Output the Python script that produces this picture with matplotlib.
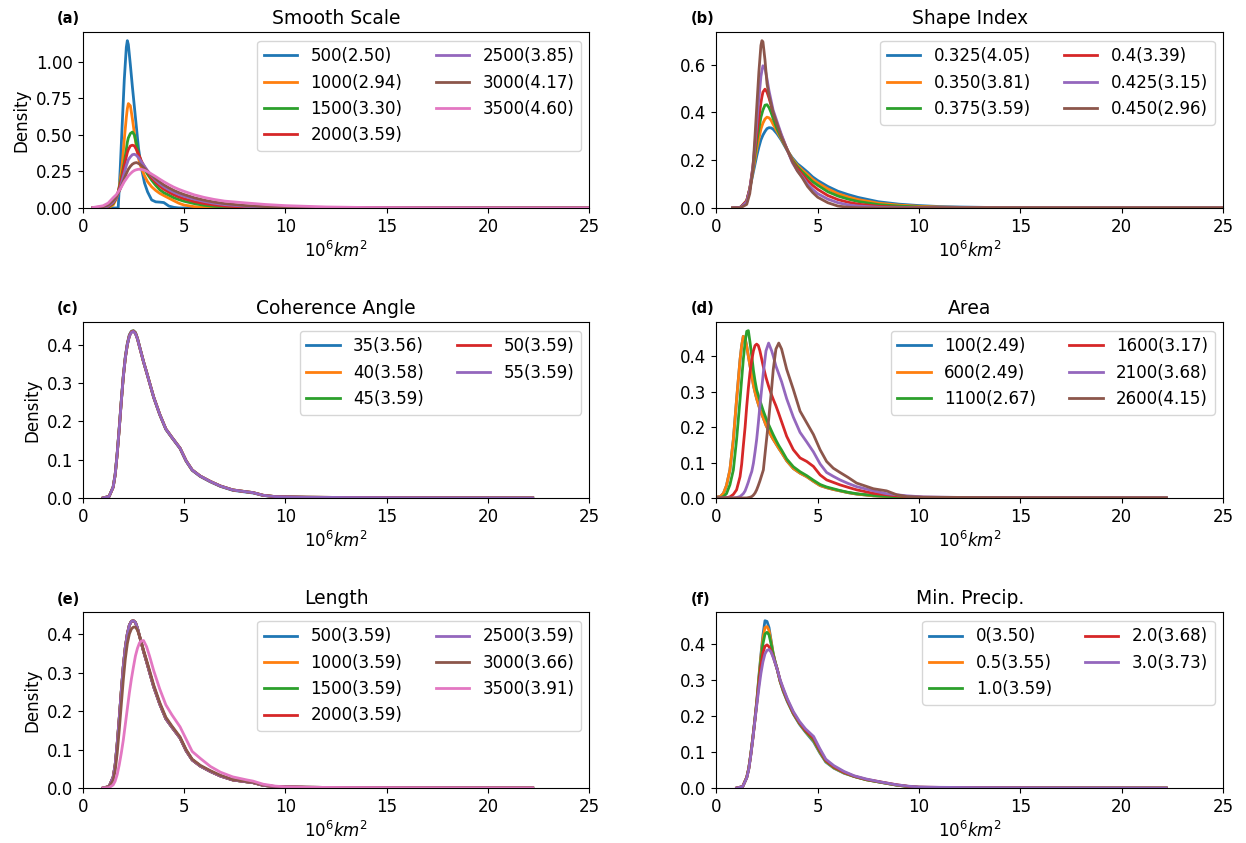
import matplotlib
matplotlib.use("Agg")
import matplotlib.pyplot as plt

# ---------------------------------------------------------------------------
# (a) Smooth Scale
x_smooth = [0.5, 1.0, 1.25, 1.5, 1.65, 1.75, 1.85, 1.95, 2.05, 2.15,
            2.2, 2.25, 2.35, 2.45, 2.55, 2.65, 2.75, 2.9, 3.05, 3.2,
            3.4, 3.6, 3.8, 4.0, 4.25, 4.5, 4.75, 5.0, 5.5, 6.0,
            6.5, 7.0, 8.0, 9.0, 10.0, 12.0, 14.0, 17.0, 20.0, 25.0]
smooth_labels = ["500(2.50)", "1000(2.94)", "1500(3.30)", "2000(3.59)",
                 "2500(3.85)", "3000(4.17)", "3500(4.60)"]
smooth_500 = [0, 0, 0, 0, 0, 0.0, 0.27, 0.58, 0.88, 1.10,
              1.146, 1.12, 0.98, 0.83, 0.69, 0.55, 0.41, 0.27, 0.17, 0.11,
              0.055, 0.042, 0.04, 0.037, 0.013, 0.004, 0, 0, 0, 0,
              0, 0, 0, 0, 0, 0, 0, 0, 0, 0]
smooth_1000 = [0, 0, 0.002, 0.02, 0.06, 0.1, 0.19, 0.30, 0.47, 0.62,
               0.68, 0.715, 0.70, 0.61, 0.51, 0.41, 0.34, 0.27, 0.22, 0.18,
               0.145, 0.12, 0.10, 0.085, 0.067, 0.049, 0.032, 0.02, 0.009, 0.004,
               0.002, 0.001, 0, 0, 0, 0, 0, 0, 0, 0]
smooth_1500 = [0, 0.001, 0.005, 0.03, 0.07, 0.11, 0.17, 0.24, 0.31, 0.40,
               0.45, 0.48, 0.51, 0.52, 0.50, 0.44, 0.37, 0.31, 0.265, 0.23,
               0.19, 0.155, 0.125, 0.105, 0.088, 0.07, 0.057, 0.046, 0.03, 0.018,
               0.011, 0.007, 0.003, 0.001, 0, 0, 0, 0, 0, 0]
smooth_2000 = [0, 0.002, 0.008, 0.035, 0.07, 0.11, 0.16, 0.22, 0.29, 0.35,
               0.38, 0.40, 0.425, 0.43, 0.425, 0.40, 0.37, 0.32, 0.28, 0.245,
               0.205, 0.175, 0.15, 0.128, 0.108, 0.09, 0.075, 0.063, 0.044, 0.03,
               0.02, 0.013, 0.006, 0.003, 0.0015, 0.0005, 0, 0, 0, 0]
smooth_2500 = [0.001, 0.004, 0.012, 0.04, 0.07, 0.1, 0.14, 0.19, 0.24, 0.29,
               0.31, 0.33, 0.35, 0.365, 0.368, 0.36, 0.345, 0.315, 0.285, 0.255,
               0.22, 0.19, 0.165, 0.145, 0.125, 0.107, 0.092, 0.08, 0.06, 0.044,
               0.032, 0.023, 0.012, 0.006, 0.003, 0.001, 0.0003, 0, 0, 0]
smooth_3000 = [0.002, 0.008, 0.02, 0.05, 0.075, 0.1, 0.13, 0.165, 0.2, 0.235,
               0.25, 0.265, 0.285, 0.30, 0.308, 0.311, 0.305, 0.29, 0.27, 0.25,
               0.225, 0.2, 0.178, 0.158, 0.138, 0.12, 0.105, 0.092, 0.07, 0.053,
               0.04, 0.03, 0.017, 0.009, 0.005, 0.002, 0.0008, 0.0002, 0, 0]
smooth_3500 = [0.003, 0.015, 0.033, 0.07, 0.09, 0.11, 0.13, 0.155, 0.18, 0.2,
               0.21, 0.22, 0.235, 0.248, 0.257, 0.262, 0.265, 0.264, 0.258, 0.248,
               0.232, 0.215, 0.197, 0.18, 0.16, 0.142, 0.127, 0.114, 0.09, 0.072,
               0.058, 0.047, 0.035, 0.024, 0.016, 0.007, 0.003, 0.001, 0.0003, 0]

# ---------------------------------------------------------------------------
# (b) Shape Index
x_shape = [0.8, 1.2, 1.5, 1.65, 1.8, 1.9, 2.0, 2.1, 2.2, 2.25,
           2.3, 2.4, 2.5, 2.6, 2.7, 2.8, 3.0, 3.2, 3.5, 3.75,
           4.0, 4.25, 4.5, 4.75, 5.0, 5.5, 6.0, 6.5, 7.0, 8.0,
           9.0, 10.0, 11.0, 12.0, 14.0, 17.0, 20.0, 25.0]
shape_labels = ["0.325(4.05)", "0.350(3.81)", "0.375(3.59)",
                "0.4(3.39)", "0.425(3.15)", "0.450(2.96)"]
shape_0325 = [0, 0.003, 0.03, 0.08, 0.14, 0.18, 0.22, 0.255, 0.285, 0.295,
              0.305, 0.32, 0.332, 0.336, 0.335, 0.33, 0.31, 0.285, 0.24, 0.21,
              0.185, 0.168, 0.15, 0.13, 0.115, 0.09, 0.07, 0.056, 0.044, 0.026,
              0.016, 0.01, 0.006, 0.004, 0.0015, 0.0005, 0.0001, 0]
shape_0350 = [0, 0.003, 0.03, 0.08, 0.15, 0.2, 0.25, 0.29, 0.33, 0.343,
              0.355, 0.372, 0.38, 0.377, 0.367, 0.35, 0.32, 0.29, 0.243, 0.205,
              0.178, 0.158, 0.14, 0.12, 0.105, 0.08, 0.06, 0.046, 0.035, 0.02,
              0.012, 0.007, 0.004, 0.0025, 0.001, 0.0003, 0, 0]
shape_0375 = [0, 0.003, 0.03, 0.08, 0.16, 0.22, 0.28, 0.33, 0.38, 0.395,
              0.41, 0.43, 0.432, 0.42, 0.4, 0.375, 0.33, 0.295, 0.243, 0.2,
              0.172, 0.15, 0.13, 0.11, 0.095, 0.068, 0.05, 0.037, 0.027, 0.014,
              0.008, 0.004, 0.002, 0.001, 0.0004, 0.0001, 0, 0]
shape_0400 = [0, 0.003, 0.03, 0.08, 0.17, 0.24, 0.31, 0.38, 0.44, 0.465,
              0.485, 0.497, 0.485, 0.46, 0.43, 0.4, 0.35, 0.305, 0.243, 0.195,
              0.165, 0.14, 0.115, 0.095, 0.078, 0.052, 0.035, 0.024, 0.016, 0.007,
              0.003, 0.0015, 0.0007, 0.0003, 0.0001, 0, 0, 0]
shape_0425 = [0, 0.002, 0.025, 0.075, 0.17, 0.26, 0.36, 0.46, 0.55, 0.575,
              0.595, 0.585, 0.54, 0.49, 0.45, 0.41, 0.36, 0.31, 0.243, 0.19,
              0.155, 0.13, 0.1, 0.078, 0.06, 0.037, 0.022, 0.013, 0.008, 0.003,
              0.001, 0.0005, 0.0002, 0.0001, 0, 0, 0, 0]
shape_0450 = [0, 0.001, 0.015, 0.06, 0.16, 0.29, 0.43, 0.57, 0.68, 0.70,
              0.695, 0.62, 0.52, 0.47, 0.435, 0.40, 0.35, 0.30, 0.243, 0.195,
              0.155, 0.125, 0.09, 0.065, 0.045, 0.022, 0.008, 0.003, 0.001, 0,
              0, 0, 0, 0, 0, 0, 0, 0]

# ---------------------------------------------------------------------------
# shared grid for (c), (e), (f)
x_common = [1.0, 1.3, 1.5, 1.6, 1.7, 1.8, 1.9, 2.0, 2.1, 2.2,
            2.3, 2.4, 2.5, 2.6, 2.7, 2.8, 2.9, 3.0, 3.15, 3.3,
            3.5, 3.8, 4.1, 4.4, 4.8, 5.1, 5.4, 5.8, 6.3, 6.8,
            7.4, 8.1, 8.4, 8.9, 9.5, 10.0, 11.0, 13.0, 16.0, 19.0,
            22.2]

# (c) Coherence Angle
angle_labels = ["35(3.56)", "40(3.58)", "45(3.59)", "50(3.59)", "55(3.59)"]
angle_35 = [0, 0.004, 0.029, 0.062, 0.117, 0.183, 0.253, 0.318, 0.368, 0.403,
            0.426, 0.435, 0.4365, 0.432, 0.417, 0.396, 0.376, 0.355, 0.328, 0.30,
            0.262, 0.217, 0.179, 0.157, 0.129, 0.096, 0.072, 0.056, 0.042, 0.03,
            0.02, 0.015, 0.013, 0.0065, 0.0033, 0.0028, 0.0018, 0.0011, 0.0005, 0.0002,
            0]
angle_40 = [0, 0.004, 0.028, 0.061, 0.116, 0.181, 0.251, 0.316, 0.366, 0.401,
            0.424, 0.434, 0.436, 0.431, 0.416, 0.395, 0.375, 0.355, 0.328, 0.30,
            0.263, 0.218, 0.18, 0.158, 0.13, 0.097, 0.073, 0.057, 0.043, 0.031,
            0.021, 0.016, 0.014, 0.007, 0.0035, 0.003, 0.002, 0.0012, 0.0006, 0.0003,
            0]
angle_45 = [0, 0.004, 0.028, 0.06, 0.115, 0.18, 0.25, 0.315, 0.365, 0.40,
            0.423, 0.433, 0.4355, 0.43, 0.415, 0.395, 0.375, 0.355, 0.328, 0.30,
            0.263, 0.218, 0.18, 0.158, 0.13, 0.097, 0.073, 0.057, 0.043, 0.031,
            0.021, 0.016, 0.014, 0.007, 0.0035, 0.003, 0.002, 0.0012, 0.0006, 0.0003,
            0]
angle_50 = [0, 0.004, 0.028, 0.06, 0.115, 0.18, 0.25, 0.315, 0.365, 0.40,
            0.423, 0.433, 0.435, 0.43, 0.415, 0.395, 0.375, 0.355, 0.328, 0.30,
            0.263, 0.218, 0.18, 0.158, 0.13, 0.097, 0.073, 0.057, 0.043, 0.031,
            0.021, 0.016, 0.014, 0.007, 0.0035, 0.003, 0.002, 0.0012, 0.0006, 0.0003,
            0]
angle_55 = [0, 0.004, 0.028, 0.06, 0.115, 0.18, 0.25, 0.315, 0.365, 0.40,
            0.422, 0.432, 0.4345, 0.429, 0.415, 0.395, 0.375, 0.355, 0.328, 0.30,
            0.263, 0.218, 0.18, 0.158, 0.13, 0.097, 0.073, 0.057, 0.043, 0.031,
            0.021, 0.016, 0.014, 0.007, 0.0035, 0.003, 0.002, 0.0012, 0.0006, 0.0003,
            0]

# ---------------------------------------------------------------------------
# (d) Area
x_area = [-0.3, 0.2, 0.35, 0.5, 0.67, 0.84, 1.0, 1.17, 1.25, 1.33,
          1.42, 1.5, 1.58, 1.66, 1.75, 1.83, 1.91, 1.99, 2.07, 2.15,
          2.32, 2.45, 2.58, 2.73, 2.81, 2.94, 3.08, 3.22, 3.47, 3.8,
          4.13, 4.46, 4.79, 5.12, 5.44, 5.77, 6.1, 6.5, 6.92, 7.75,
          8.4, 8.9, 9.4, 10.2, 12.0, 15.0, 18.0, 22.2]
area_labels = ["100(2.49)", "600(2.49)", "1100(2.67)",
               "1600(3.17)", "2100(3.68)", "2600(4.15)"]
area_100 = [0, 0.004, 0.013, 0.035, 0.079, 0.165, 0.278, 0.39, 0.43, 0.456,
            0.45, 0.428, 0.40, 0.373, 0.345, 0.318, 0.298, 0.28, 0.265, 0.25,
            0.225, 0.205, 0.19, 0.173, 0.165, 0.153, 0.14, 0.128, 0.105, 0.083,
            0.07, 0.06, 0.047, 0.035, 0.029, 0.024, 0.02, 0.015, 0.011, 0.006,
            0.004, 0.003, 0.002, 0.0015, 0.001, 0.0005, 0.0002, 0]
area_600 = [0, 0.004, 0.013, 0.035, 0.079, 0.165, 0.278, 0.39, 0.43, 0.456,
            0.45, 0.428, 0.40, 0.373, 0.345, 0.318, 0.298, 0.28, 0.265, 0.25,
            0.225, 0.205, 0.19, 0.173, 0.165, 0.153, 0.14, 0.128, 0.105, 0.083,
            0.07, 0.06, 0.047, 0.035, 0.029, 0.024, 0.02, 0.015, 0.011, 0.006,
            0.004, 0.003, 0.002, 0.0015, 0.001, 0.0005, 0.0002, 0]
area_1100 = [0, 0.001, 0.004, 0.012, 0.037, 0.079, 0.165, 0.278, 0.335, 0.39,
             0.44, 0.47, 0.472, 0.44, 0.40, 0.36, 0.33, 0.305, 0.29, 0.275,
             0.245, 0.225, 0.207, 0.188, 0.178, 0.163, 0.148, 0.135, 0.11, 0.088,
             0.074, 0.063, 0.05, 0.038, 0.031, 0.026, 0.021, 0.016, 0.012, 0.007,
             0.0045, 0.003, 0.002, 0.0015, 0.001, 0.0005, 0.0002, 0]
area_1600 = [0, 0, 0, 0.001, 0.003, 0.01, 0.023, 0.06, 0.095, 0.146,
             0.2, 0.259, 0.31, 0.354, 0.39, 0.415, 0.43, 0.434, 0.43, 0.415,
             0.37, 0.34, 0.315, 0.29, 0.278, 0.26, 0.238, 0.215, 0.174, 0.136,
             0.113, 0.103, 0.089, 0.065, 0.051, 0.044, 0.037, 0.03, 0.023, 0.013,
             0.009, 0.006, 0.004, 0.002, 0.0012, 0.0006, 0.0002, 0]
area_2100 = [0, 0, 0, 0, 0, 0, 0.001, 0.004, 0.008, 0.012,
             0.02, 0.032, 0.045, 0.06, 0.075, 0.098, 0.13, 0.165, 0.21, 0.259,
             0.354, 0.415, 0.437, 0.415, 0.40, 0.372, 0.35, 0.328, 0.28, 0.228,
             0.185, 0.158, 0.13, 0.096, 0.072, 0.061, 0.051, 0.041, 0.032, 0.02,
             0.012, 0.009, 0.006, 0.003, 0.0015, 0.0007, 0.0003, 0]
area_2600 = [0, 0, 0, 0, 0, 0, 0, 0, 0, 0,
             0, 0, 0.001, 0.002, 0.004, 0.008, 0.014, 0.023, 0.035, 0.048,
             0.079, 0.15, 0.22, 0.31, 0.363, 0.42, 0.437, 0.42, 0.363, 0.306,
             0.245, 0.212, 0.179, 0.136, 0.103, 0.084, 0.072, 0.058, 0.042, 0.026,
             0.02, 0.009, 0.004, 0.002, 0.0015, 0.0008, 0.0003, 0]

# ---------------------------------------------------------------------------
# (e) Length
length_labels = ["500(3.59)", "1000(3.59)", "1500(3.59)", "2000(3.59)",
                 "2500(3.59)", "3000(3.66)", "3500(3.91)"]
length_base = [0, 0.004, 0.028, 0.06, 0.115, 0.18, 0.25, 0.315, 0.365, 0.40,
               0.423, 0.433, 0.4345, 0.43, 0.415, 0.395, 0.375, 0.355, 0.328, 0.30,
               0.263, 0.218, 0.18, 0.158, 0.13, 0.097, 0.073, 0.057, 0.043, 0.031,
               0.021, 0.016, 0.014, 0.007, 0.0035, 0.003, 0.002, 0.0012, 0.0006, 0.0003,
               0]
length_3000 = [0, 0.003, 0.02, 0.045, 0.09, 0.15, 0.215, 0.28, 0.335, 0.375,
               0.40, 0.413, 0.418, 0.418, 0.41, 0.395, 0.377, 0.358, 0.332, 0.305,
               0.268, 0.222, 0.184, 0.161, 0.133, 0.1, 0.075, 0.059, 0.045, 0.033,
               0.022, 0.017, 0.015, 0.008, 0.004, 0.003, 0.002, 0.0012, 0.0006, 0.0003,
               0]
length_3500 = [0, 0.001, 0.008, 0.018, 0.035, 0.06, 0.09, 0.124, 0.165, 0.206,
               0.247, 0.283, 0.314, 0.343, 0.363, 0.377, 0.382, 0.383, 0.367, 0.342,
               0.305, 0.257, 0.216, 0.19, 0.159, 0.127, 0.095, 0.077, 0.056, 0.041,
               0.029, 0.021, 0.018, 0.01, 0.005, 0.003, 0.002, 0.0012, 0.0006, 0.0003,
               0]

# ---------------------------------------------------------------------------
# (f) Min. Precip.
precip_labels = ["0(3.50)", "0.5(3.55)", "1.0(3.59)", "2.0(3.68)", "3.0(3.73)"]
precip_00 = [0, 0.004, 0.03, 0.055, 0.095, 0.14, 0.19, 0.245, 0.31, 0.37,
             0.425, 0.464, 0.462, 0.445, 0.41, 0.375, 0.35, 0.33, 0.295, 0.268,
             0.24, 0.205, 0.177, 0.155, 0.128, 0.098, 0.072, 0.055, 0.041, 0.032,
             0.023, 0.016, 0.013, 0.008, 0.004, 0.002, 0.0015, 0.001, 0.0005, 0.0002,
             0]
precip_05 = [0, 0.004, 0.03, 0.055, 0.094, 0.139, 0.189, 0.243, 0.305, 0.365,
             0.415, 0.445, 0.448, 0.437, 0.407, 0.374, 0.35, 0.33, 0.295, 0.27,
             0.242, 0.206, 0.179, 0.157, 0.131, 0.1, 0.074, 0.056, 0.042, 0.032,
             0.023, 0.016, 0.013, 0.008, 0.004, 0.002, 0.0015, 0.001, 0.0005, 0.0002,
             0]
precip_10 = [0, 0.004, 0.029, 0.054, 0.093, 0.138, 0.188, 0.24, 0.3, 0.355,
             0.4, 0.427, 0.432, 0.425, 0.4, 0.372, 0.35, 0.33, 0.296, 0.271,
             0.243, 0.207, 0.18, 0.158, 0.133, 0.102, 0.075, 0.057, 0.043, 0.032,
             0.023, 0.016, 0.013, 0.008, 0.004, 0.002, 0.0015, 0.001, 0.0005, 0.0002,
             0]
precip_20 = [0, 0.004, 0.029, 0.053, 0.092, 0.137, 0.186, 0.237, 0.29, 0.34,
             0.375, 0.393, 0.397, 0.392, 0.38, 0.365, 0.347, 0.33, 0.298, 0.274,
             0.245, 0.209, 0.182, 0.16, 0.138, 0.106, 0.077, 0.059, 0.044, 0.033,
             0.024, 0.017, 0.014, 0.009, 0.0045, 0.0025, 0.0018, 0.0011, 0.0005, 0.0002,
             0]
precip_30 = [0, 0.004, 0.028, 0.052, 0.09, 0.135, 0.185, 0.232, 0.277, 0.318,
             0.35, 0.372, 0.382, 0.384, 0.377, 0.363, 0.347, 0.33, 0.3, 0.277,
             0.248, 0.212, 0.185, 0.164, 0.143, 0.11, 0.08, 0.062, 0.046, 0.034,
             0.025, 0.017, 0.014, 0.009, 0.005, 0.003, 0.002, 0.0012, 0.0006, 0.0003,
             0]

# ---------------------------------------------------------------------------
panels = [
    ("(a)", "Smooth Scale", x_smooth,
     [smooth_500, smooth_1000, smooth_1500, smooth_2000,
      smooth_2500, smooth_3000, smooth_3500], smooth_labels),
    ("(b)", "Shape Index", x_shape,
     [shape_0325, shape_0350, shape_0375, shape_0400,
      shape_0425, shape_0450], shape_labels),
    ("(c)", "Coherence Angle", x_common,
     [angle_35, angle_40, angle_45, angle_50, angle_55], angle_labels),
    ("(d)", "Area", x_area,
     [area_100, area_600, area_1100, area_1600, area_2100, area_2600],
     area_labels),
    ("(e)", "Length", x_common,
     [length_base, length_base, length_base, length_base, length_base,
      length_3000, length_3500], length_labels),
    ("(f)", "Min. Precip.", x_common,
     [precip_00, precip_05, precip_10, precip_20, precip_30], precip_labels),
]

fig = plt.figure(figsize=(12.46, 8.43), dpi=100)
col_left = [0.0664, 0.5749]
row_bottom = [0.7533, 0.4093, 0.0652]
width, height = 0.4067, 0.2084

for i, (tag, title, xs, curves, labels) in enumerate(panels):
    r, c = divmod(i, 2)
    ax = fig.add_axes([col_left[c], row_bottom[r], width, height])
    for k, (ys, lab) in enumerate(zip(curves, labels)):
        ax.plot(xs, ys, color=f"C{k}", lw=2, label=lab)
    ax.set_xlim(0, 25)
    ax.set_ylim(bottom=0)
    ax.set_xticks([0, 5, 10, 15, 20, 25])
    ax.tick_params(labelsize=12)
    ax.set_title(title, fontsize=13.5)
    ax.set_xlabel(r"$10^6km^2$", fontsize=12)
    if c == 0:
        ax.set_ylabel("Density", fontsize=12)
    ax.legend(ncol=2, loc="upper right", fontsize=12)
    ax.text(-0.051, 1.076, tag, transform=ax.transAxes, fontsize=10.5,
            fontweight="bold", ha="left", va="center")

fig.savefig("out.png", dpi=100)
